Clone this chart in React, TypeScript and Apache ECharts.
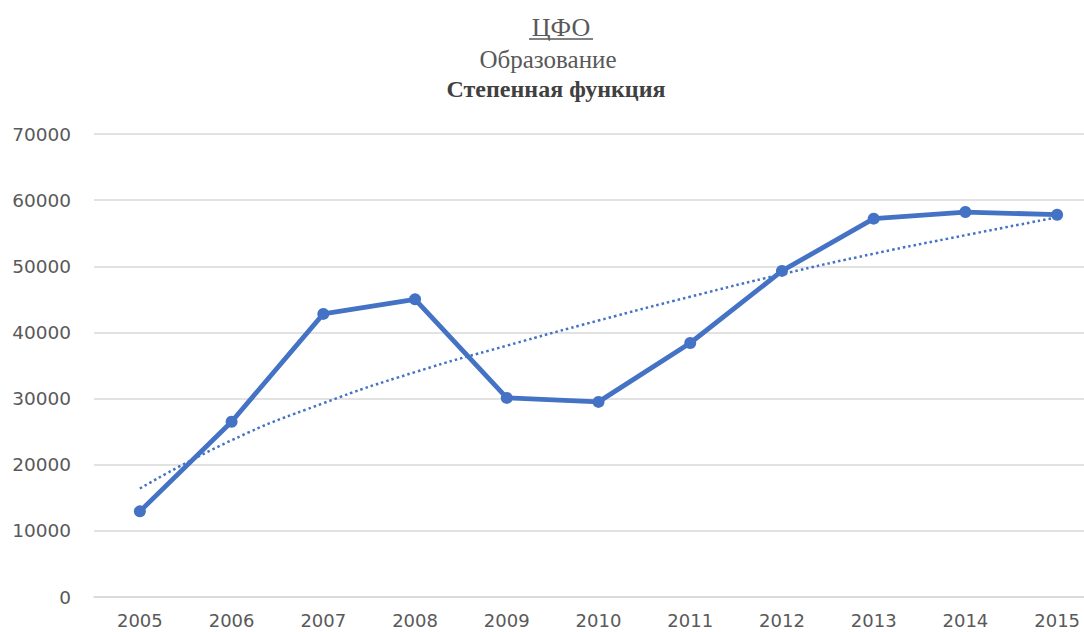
import React, { useEffect, useRef } from "react";
import * as echarts from "echarts";

const years = ["2005", "2006", "2007", "2008", "2009", "2010", "2011", "2012", "2013", "2014", "2015"];
const values = [12950, 26500, 42800, 45000, 30100, 29500, 38400, 49300, 57200, 58200, 57800];
const trend = [16400, 23700, 29300, 34000, 38000, 41800, 45400, 48800, 51900, 54700, 57400];
const yTicks = { min: 0, max: 70000, interval: 10000 };
const titleLines = ["ЦФО", "Образование", "Степенная функция"];

export default function App() {
  const ref = useRef<HTMLDivElement>(null);
  useEffect(() => {
    if (!ref.current) return;
    const chart = echarts.init(ref.current, null, { renderer: "svg" });
    const blue = "#4472C4";
    const serif = "'Liberation Serif', 'Times New Roman', serif";
    chart.setOption({
      animation: false,
      backgroundColor: "#ffffff",
      graphic: [
        {
          type: "text",
          x: 561,
          y: 27,
          style: {
            text: titleLines[0],
            fontSize: 26,
            fontFamily: serif,
            fill: "#595959",
            align: "center",
            verticalAlign: "middle",
          },
        },
        {
          type: "line",
          shape: { x1: 529, y1: 39, x2: 593, y2: 39 },
          style: { stroke: "#595959", lineWidth: 1.3 },
        },
        {
          type: "text",
          x: 548,
          y: 59,
          style: {
            text: titleLines[1],
            fontSize: 25,
            fontFamily: serif,
            fill: "#595959",
            align: "center",
            verticalAlign: "middle",
          },
        },
        {
          type: "text",
          x: 556,
          y: 89,
          style: {
            text: titleLines[2],
            fontSize: 24,
            fontWeight: "bold",
            fontFamily: serif,
            fill: "#404040",
            align: "center",
            verticalAlign: "middle",
          },
        },
      ],
      grid: { left: 94, top: 134, bottom: 35, width: 1009 },
      xAxis: {
        type: "category",
        data: years,
        boundaryGap: true,
        axisLine: { show: true, lineStyle: { color: "#d9d9d9", width: 1.5 } },
        axisTick: { show: false },
        axisLabel: {
          color: "#595959",
          fontSize: 18,
          fontFamily: "'DejaVu Sans', sans-serif",
          margin: 14,
        },
      },
      yAxis: {
        type: "value",
        min: yTicks.min,
        max: yTicks.max,
        interval: yTicks.interval,
        axisLine: { show: false },
        axisTick: { show: false },
        splitLine: { lineStyle: { color: "#d9d9d9", width: 1.5 } },
        axisLabel: {
          color: "#595959",
          fontSize: 18.5,
          fontFamily: "'DejaVu Sans', sans-serif",
          margin: 23,
          formatter: (v: number) => String(v),
        },
      },
      series: [
        {
          type: "line",
          data: trend,
          smooth: true,
          symbol: "none",
          lineStyle: { color: blue, width: 2.5, type: [2.5, 3] },
          z: 2,
        },
        {
          type: "line",
          data: values,
          symbol: "circle",
          symbolSize: 12,
          itemStyle: { color: blue },
          lineStyle: { color: blue, width: 4.8 },
          z: 3,
        },
      ],
    });
    return () => chart.dispose();
  }, []);
  return (
    <div
      style={{
        position: "fixed",
        left: 0,
        top: 0,
        width: 1084,
        height: 632,
        overflow: "hidden",
        background: "#ffffff",
      }}
    >
      <div ref={ref} style={{ width: 1110, height: 632 }} />
    </div>
  );
}
